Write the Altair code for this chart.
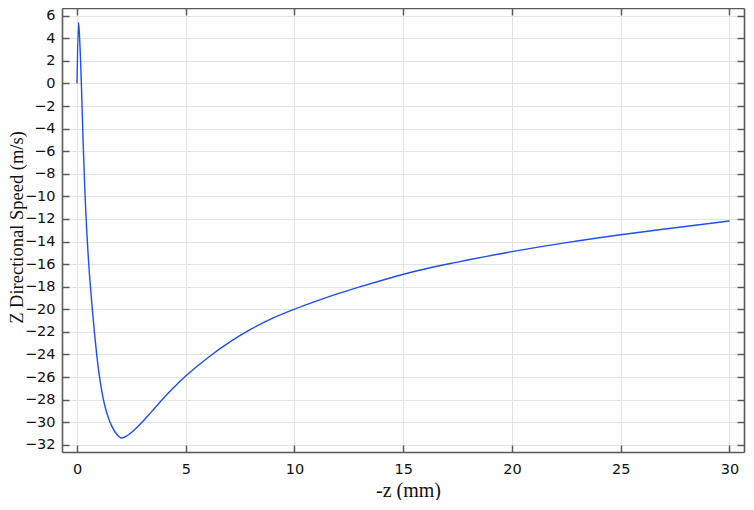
import altair as alt
import pandas as pd

# -z (mm)
z_mm = [0.0, 0.07, 0.12, 0.2, 0.25, 0.3, 0.35, 0.4, 0.45, 0.5, 0.55, 0.6, 0.7, 0.8, 0.9,
        1.0, 1.1, 1.2, 1.3, 1.45, 1.6, 1.8, 2.05, 2.3, 2.6, 3.0, 3.4, 3.8, 4.2, 4.6, 5.0,
        6.0, 7.0, 8.0, 9.0, 10.0, 11.0, 12.0, 13.0, 14.0, 15.0, 17.5, 20.0, 22.5, 25.0,
        27.5, 30.0]
# Z directional speed (m/s)
speed = [0.0, 5.4, 4.0, 0.0, -3.2, -6.2, -8.9, -11.2, -13.1, -14.8, -16.3, -17.6, -19.9,
         -22.0, -23.9, -25.5, -26.8, -27.85, -28.7, -29.65, -30.35, -31.0, -31.4, -31.2,
         -30.75, -29.99, -29.13, -28.25, -27.41, -26.63, -25.91, -24.31, -22.93, -21.76,
         -20.79, -19.99, -19.28, -18.62, -18.02, -17.45, -16.9, -15.82, -14.9, -14.1,
         -13.4, -12.78, -12.18]

x_ticks = [0, 5, 10, 15, 20, 25, 30]
y_ticks = [6, 4, 2, 0, -2, -4, -6, -8, -10, -12, -14, -16, -18, -20, -22, -24, -26,
           -28, -30, -32]

df = pd.DataFrame({"z": z_mm, "v": speed})

W, H = 682, 444
xs = alt.Scale(domain=[-0.69, 30.67], nice=False, zero=False)
ys = alt.Scale(domain=[-32.64, 6.68], nice=False, zero=False)

TICK_IN = alt.ExprRef(expr="-7")
LBL_FONT = "DejaVu Sans"
TTL_FONT = "Liberation Serif"
FRAME = "#5a5a5a"

common = dict(tickSize=TICK_IN, tickColor=FRAME, tickWidth=1.5,
              domainColor=FRAME, domainWidth=1.6,
              labelFont=LBL_FONT, labelFontSize=14.5, labelColor="#111111",
              gridColor="#e4e4e4", gridWidth=1)

ax_bottom = alt.Axis(orient="bottom", values=x_ticks, grid=True, labelPadding=17,
                     title="-z (mm)", titleFont=TTL_FONT, titleFontSize=20,
                     titleFontWeight="normal", titleColor="#111111",
                     titleX=346, titleY=38, titleBaseline="middle", titleAlign="center",
                     **common)
ax_left = alt.Axis(orient="left", values=y_ticks, grid=True, labelPadding=14,
                   title="Z Directional Speed (m/s)", titleFont=TTL_FONT, titleFontSize=18.5,
                   titleFontWeight="normal", titleColor="#111111",
                   titleX=-45.5, titleY=219, titleAngle=-90, titleBaseline="middle",
                   titleAlign="center", **common)
ax_top = alt.Axis(orient="top", values=x_ticks, grid=False, labels=False, title=None,
                  **common)
ax_right = alt.Axis(orient="right", values=y_ticks, grid=False, labels=False, title=None,
                    **common)

line = alt.Chart(df).mark_line(color="#1f4ef5", strokeWidth=1.4, clip=True,
                               interpolate="monotone").encode(
    x=alt.X("z:Q", scale=xs, axis=ax_bottom),
    y=alt.Y("v:Q", scale=ys, axis=ax_left),
)

mirror = alt.Chart(df).mark_line(opacity=0).encode(
    x=alt.X("z:Q", scale=xs, axis=ax_top),
    y=alt.Y("v:Q", scale=ys, axis=ax_right),
)

chart = alt.layer(line, mirror).resolve_axis(x="independent", y="independent").properties(
    width=W, height=H,
    autosize=alt.AutoSizeParams(type="none"),
    padding={"left": 54, "top": 0, "right": 2, "bottom": 48},
    background="white",
).configure_view(stroke=None)

chart.save("out.html", embed_options={"renderer": "svg", "actions": False})
